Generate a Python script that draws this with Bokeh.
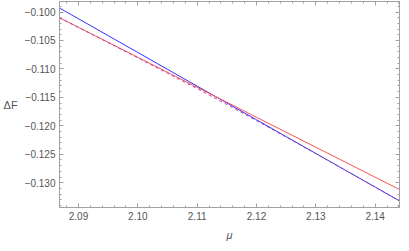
from bokeh.plotting import figure
from bokeh.models import (Range1d, SingleIntervalTicker, LinearAxis, CustomJSTickFormatter,
                          ColumnDataSource, CustomLabelingPolicy)
from bokeh.embed import file_html
from bokeh.resources import INLINE

# data
mu = [2.085, 2.09, 2.095, 2.10, 2.105, 2.11, 2.115, 2.12, 2.125, 2.13, 2.135, 2.14, 2.145]
dF_blue = [-0.09824, -0.10119, -0.10415, -0.10711, -0.11007, -0.11303, -0.11598, -0.11894,
           -0.12190, -0.12486, -0.12782, -0.13077, -0.13373]
dF_red = [-0.10005, -0.10269, -0.10532, -0.10796, -0.11059, -0.11323, -0.11586, -0.11850,
          -0.12113, -0.12377, -0.12640, -0.12904, -0.13167]
dF_dashed = [-0.10006, -0.10272, -0.10538, -0.10805, -0.11075, -0.11345, -0.11625, -0.11910,
             -0.12198, -0.12490, -0.12784, -0.13077, -0.13373]

x_min, x_max = 2.0868, 2.1441
y_min, y_max = -0.13436, -0.09815

src = ColumnDataSource(dict(mu=mu, b=dF_blue, r=dF_red, d=dF_dashed))

p = figure(width=401, height=243, output_backend="svg", toolbar_location=None,
           x_range=Range1d(x_min, x_max), y_range=Range1d(y_min, y_max),
           x_axis_location=None, y_axis_location=None)
p.min_border_left = 51
p.min_border_right = 2
p.min_border_top = 1
p.min_border_bottom = 34
p.xgrid.visible = False
p.ygrid.visible = False
p.outline_line_color = "#a0a0a0"
p.background_fill_color = "white"
p.border_fill_color = "white"

fmt_x = CustomJSTickFormatter(code="return tick.toFixed(2);")
fmt_y = CustomJSTickFormatter(code="return (tick < 0 ? '\u2212' : '') + Math.abs(tick).toFixed(3);")
no_labels = CustomLabelingPolicy(code="""
try { for (let i = 0; i < indices.size; i++) { indices.unset(i); } } catch (e) {}
return indices;
""")

def style(ax, labels=True):
    ax.axis_line_color = "#a0a0a0"
    ax.major_tick_line_color = "#a0a0a0"
    ax.minor_tick_line_color = "#a0a0a0"
    ax.major_tick_in = 4
    ax.major_tick_out = 0
    ax.minor_tick_in = 2
    ax.minor_tick_out = 0
    ax.major_label_text_color = "#555555"
    ax.major_label_text_font = "Liberation Sans"
    ax.major_label_text_font_size = "10px" if labels else "0px"
    ax.major_label_standoff = 4 if labels else 0
    if not labels:
        ax.major_label_policy = no_labels
    ax.axis_label_text_color = "#555555"
    ax.axis_label_text_font = "Liberation Sans"
    ax.axis_label_text_font_size = "11px"
    ax.axis_label_text_font_style = "normal"

xb = LinearAxis(ticker=SingleIntervalTicker(interval=0.01, num_minor_ticks=5), formatter=fmt_x,
                axis_label="μ")
style(xb)
xb.axis_label_text_font_style = "italic"
xb.axis_label_standoff = 6
xt = LinearAxis(ticker=SingleIntervalTicker(interval=0.01, num_minor_ticks=5), formatter=fmt_x)
style(xt, labels=False)
yl = LinearAxis(ticker=SingleIntervalTicker(interval=0.005, num_minor_ticks=5), formatter=fmt_y,
                axis_label="ΔF")
style(yl)
yl.axis_label_orientation = "horizontal"
yl.axis_label_standoff = 4
yr = LinearAxis(ticker=SingleIntervalTicker(interval=0.005, num_minor_ticks=5), formatter=fmt_y)
style(yr, labels=False)

p.add_layout(xb, "below")
p.add_layout(xt, "above")
p.add_layout(yl, "left")
p.add_layout(yr, "right")

p.line("mu", "b", source=src, line_color="#3030ff", line_width=1)
p.line("mu", "r", source=src, line_color="#ff5050", line_width=1)
p.line("mu", "d", source=src, line_color="#b040a0", line_width=1, line_dash="3 3")

open("out.html", "w").write(file_html(p, INLINE))
